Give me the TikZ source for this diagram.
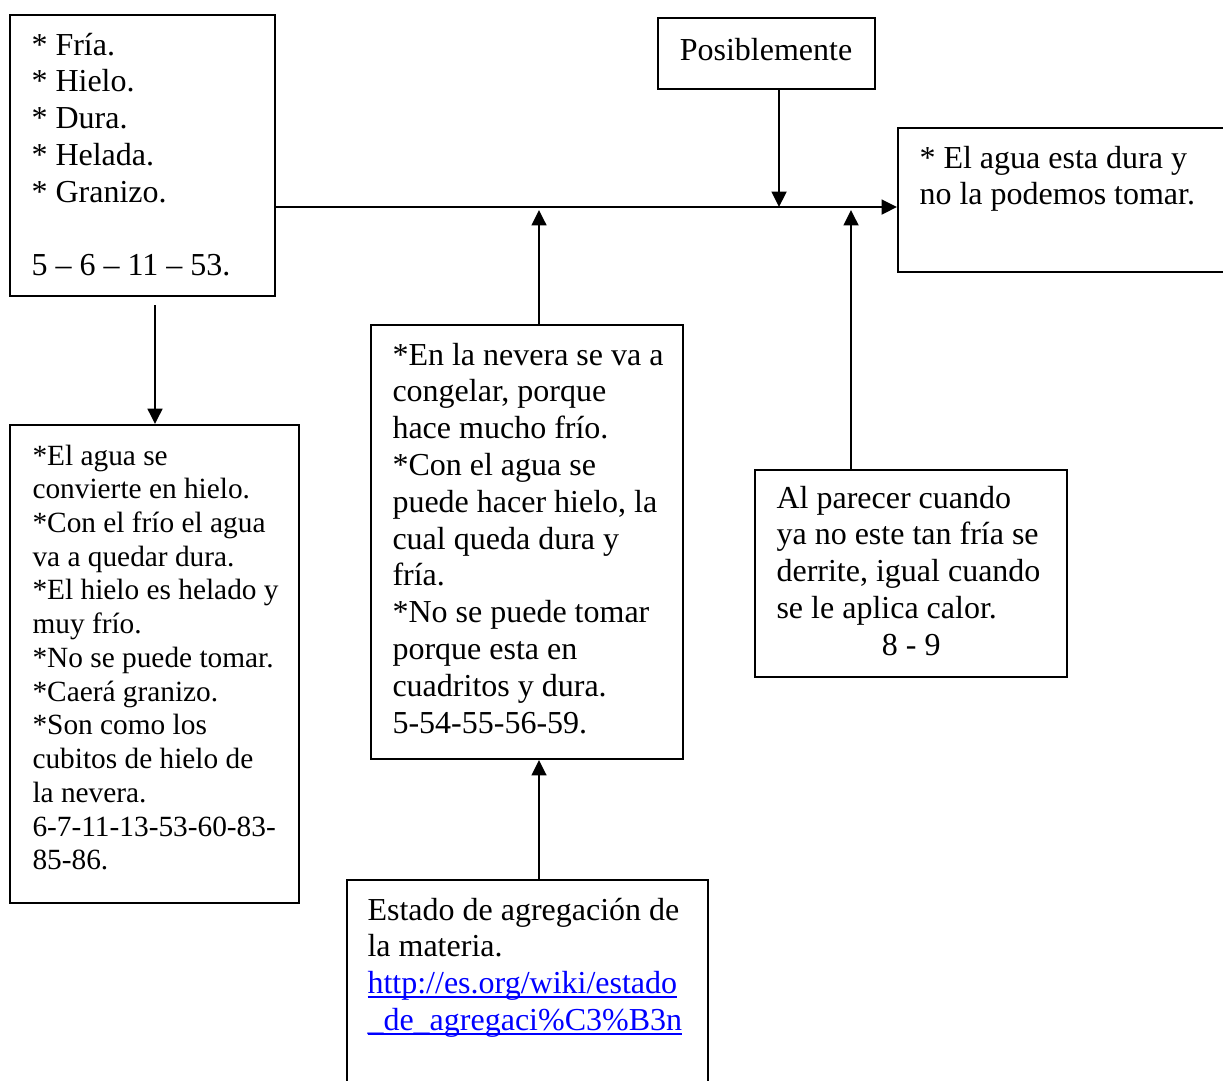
\documentclass[tikz,border=0pt]{standalone}
\usepackage{fontspec}
\setmainfont{Liberation Serif}
\usetikzlibrary{arrows.meta,fit}
\definecolor{linkblue}{RGB}{0,0,255}
% hyperlink text, underlined just under the baseline
\newsavebox\linkbox
\newcommand\linkul[1]{\leavevmode\sbox\linkbox{\color{linkblue}#1}%
  \rlap{\color{linkblue}\vrule width\wd\linkbox height -1.0pt depth 1.7pt}\usebox\linkbox}
% word spacing of the font's own space
\newcommand\fixspace{\spaceskip=0.25em\relax\xspaceskip=0.25em\relax}
\tikzset{
  box/.style={draw, line width=0.75pt, inner sep=0pt},
  txt/.style={anchor=base west, inner sep=0pt, text width=160pt,
              font=\fontsize{12}{13.8}\selectfont,
              execute at begin node=\fixspace},
  txtsmall/.style={txt, font=\fontsize{11}{12.65}\selectfont},
  arr/.style={line width=0.75pt, -{Triangle[length=5.8pt,width=5.6pt]}}
}
\begin{document}
\begin{tikzpicture}[x=0.375pt,y=-0.375pt]
\useasboundingbox (0,0) rectangle (1223,1080);

% boxes
\node[box, fit={(10,15) (275,296)}]    (A) {};
\node[box, fit={(658,18) (875,89)}]    (P) {};
\node[box, fit={(898,128) (1240,272)}] (R) {};
\node[box, fit={(10,425) (299,903)}]   (B) {};
\node[box, fit={(371,325) (683,759)}]  (C) {};
\node[box, fit={(347,880) (708,1100)}] (D) {};
\node[box, fit={(755,470) (1067,677)}] (E) {};

% texts
\node[txt] (tA) at (31,55) {* Fría.\\{*} Hielo.\\{*} Dura.\\{*} Helada.\\{*} Granizo.\\[13.8pt]5 – 6 – 11 – 53.};
\node[anchor=base, inner sep=0pt, font=\fontsize{12}{13.8}\selectfont] (tP) at (766,60) {Posiblemente};
\node[txt] (tR) at (919,168) {* El agua esta dura y\\no la podemos tomar.};
\node[txtsmall] (tB) at (32,465) {*El agua se\\convierte en hielo.\\{*}Con el frío el agua\\va a quedar dura.\\{*}El hielo es helado y\\muy frío.\\{*}No se puede tomar.\\{*}Caerá granizo.\\{*}Son como los\\cubitos de hielo de\\la nevera.\\6-7-11-13-53-60-83-\\85-86.};
\node[txt] (tC) at (392,365) {*En la nevera se va a\\congelar, porque\\hace mucho frío.\\{*}Con el agua se\\puede hacer hielo, la\\cual queda dura y\\fría.\\{*}No se puede tomar\\porque esta en\\cuadritos y dura.\\5-54-55-56-59.};
\node[txt] (tD) at (367,920) {Estado de agregación de\\la materia.\\\linkul{http://es.org/wiki/estado}\\\linkul{\_de\_agregaci\%C3\%B3n}};
\node[txt] (tE) at (776,508) {Al parecer cuando\\ya no este tan fría se\\derrite, igual cuando\\se le aplica calor.\\\hspace*{39.5pt}8 - 9};

% junction points on the main line
\coordinate (j)  at (0,207);
\coordinate (jp) at (779,207);
\coordinate (jc) at (539,210);
\coordinate (je) at (851,210);
\coordinate (ab) at (155,305);

% connectors
\draw[arr] (A.east |- j) -- (R.west |- j);
\draw[arr] (P.south -| jp) -- (jp);
\draw[arr] (C.north -| jc) -- (jc);
\draw[arr] (E.north -| je) -- (je);
\draw[arr] (D.north -| jc) -- (C.south -| jc);
\draw[arr] (ab) -- (B.north -| ab);
\end{tikzpicture}
\end{document}
